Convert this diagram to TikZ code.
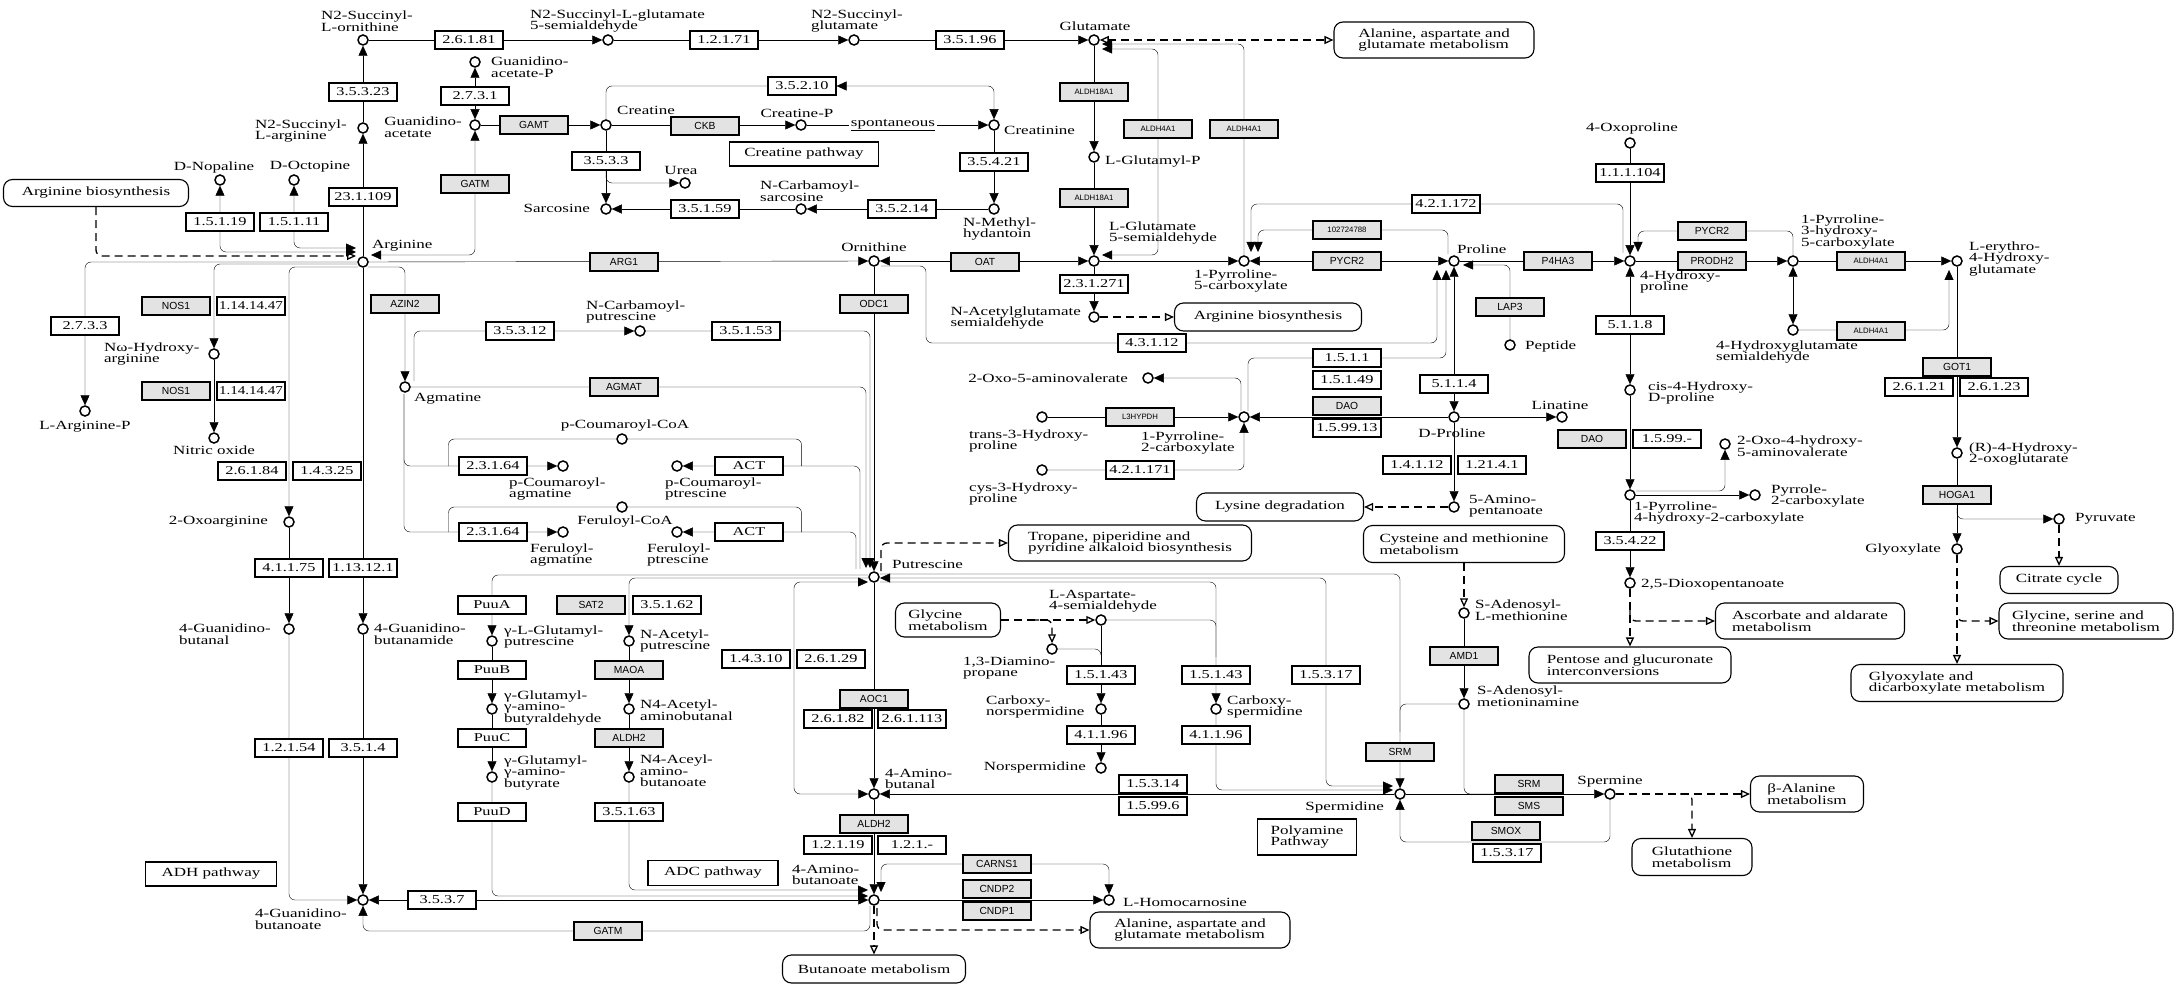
\documentclass[tikz,border=0pt]{standalone}
\usepackage{fontspec}
\usepackage{tikz}
\usetikzlibrary{arrows.meta,calc,backgrounds}
\newfontfamily\keggfont[FakeStretch=1.36]{Liberation Serif}
\newfontfamily\genefont{Liberation Sans}

\begin{document}
\begin{tikzpicture}
[x=1pt, y=-1pt,
cpd/.style={circle, draw=black, fill=white, line width=1.5pt, inner sep=0pt, minimum size=10pt},
ec/.style={rectangle, draw=black, fill=white, line width=1.1pt, inner sep=0pt, minimum width=68pt, minimum height=18pt, font=\keggfont\fontsize{12}{12}\selectfont},
gene/.style={ec, fill=gray!22, font=\genefont\fontsize{10.3}{10.3}\selectfont},
genesm/.style={gene, font=\genefont\fontsize{7.8}{8}\selectfont},
lbl/.style={inner sep=0pt, align=left, font=\keggfont\fontsize{12.5}{11.5}\selectfont},
mapbox/.style={rectangle, rounded corners=9pt, draw=black, fill=white, line width=1.1pt, inner sep=0pt, align=left, font=\keggfont\fontsize{12.5}{11.5}\selectfont},
infobox/.style={mapbox, sharp corners},
ar/.style={-{Triangle[length=10pt,width=9pt]}},
arr2/.style={{Triangle[length=10pt,width=9pt]}-{Triangle[length=10pt,width=9pt]}},
lnk/.style={line width=1.3pt, dash pattern=on 8pt off 5pt, -{Triangle[open,length=9pt,width=8pt]}},
lnk2/.style={lnk, {Triangle[open,length=9pt,width=8pt]}-{Triangle[open,length=9pt,width=8pt]}}
]
\useasboundingbox (0,0) rectangle (2176,984);

%compounds
\node at (363,40) [cpd] (sucOrn) {};
\node at (608,40) [cpd] (sucGsa) {};
\node at (854,40) [cpd] (sucGlu) {};
\node at (1094,40) [cpd] (glu) {};
\node at (475,62) [cpd] (gaP) {};
\node at (475,125) [cpd] (gaa) {};
\node at (363,128) [cpd] (sucArg) {};
\node at (220,180) [cpd] (nop) {};
\node at (294,180) [cpd] (oct) {};
\node at (363,262) [cpd] (arg) {};
\node at (606,125) [cpd] (creat) {};
\node at (801,125) [cpd] (creP) {};
\node at (994,125) [cpd] (crn) {};
\node at (685,183) [cpd] (urea) {};
\node at (606,209) [cpd] (sarc) {};
\node at (801,209) [cpd] (ncs) {};
\node at (994,209) [cpd] (nmh) {};
\node at (874,261) [cpd] (orn) {};
\node at (1094,157) [cpd] (glp) {};
\node at (1094,261) [cpd] (gsa) {};
\node at (1094,317) [cpd] (nags) {};
\node at (1244,261) [cpd] (p5c) {};
\node at (1454,261) [cpd] (pro) {};
\node at (1630,143) [cpd] (oxopro) {};
\node at (1630,261) [cpd] (hyp) {};
\node at (1793,261) [cpd] (p3h) {};
\node at (1793,330) [cpd] (hgs) {};
\node at (1957,261) [cpd] (ehg) {};
\node at (85,411) [cpd] (argP) {};
\node at (214,354) [cpd] (nohArg) {};
\node at (214,438) [cpd] (no) {};
\node at (289,522) [cpd] (oxoArg) {};
\node at (289,629) [cpd] (gbal) {};
\node at (363,629) [cpd] (gbam) {};
\node at (363,900) [cpd] (gbut) {};
\node at (405,387) [cpd] (agm) {};
\node at (640,331) [cpd] (ncp) {};
\node at (622,439) [cpd] (pcoa) {};
\node at (563,466) [cpd] (pcagm) {};
\node at (677,466) [cpd] (pcput) {};
\node at (622,507) [cpd] (fcoa) {};
\node at (563,532) [cpd] (fagm) {};
\node at (677,532) [cpd] (fput) {};
\node at (874,577) [cpd] (put) {};
\node at (492,641) [cpd] (glput) {};
\node at (492,709) [cpd] (glbal) {};
\node at (492,777) [cpd] (glbut) {};
\node at (629,641) [cpd] (nap) {};
\node at (629,709) [cpd] (naal) {};
\node at (629,777) [cpd] (naab) {};
\node at (874,794) [cpd] (abal) {};
\node at (874,900) [cpd] (gaba) {};
\node at (1109,900) [cpd] (hcar) {};
\node at (1148,378) [cpd] (oav) {};
\node at (1042,417) [cpd] (tHyp) {};
\node at (1042,470) [cpd] (cHyp) {};
\node at (1244,417) [cpd] (p2c) {};
\node at (1454,417) [cpd] (dpro) {};
\node at (1562,417) [cpd] (lin) {};
\node at (1454,507) [cpd] (apen) {};
\node at (1510,345) [cpd] (pep) {};
\node at (1630,390) [cpd] (c4h) {};
\node at (1630,495) [cpd] (p4h) {};
\node at (1725,444) [cpd] (oha) {};
\node at (1755,495) [cpd] (pyc) {};
\node at (1630,583) [cpd] (dop) {};
\node at (1957,453) [cpd] (rhog) {};
\node at (1957,549) [cpd] (glyox) {};
\node at (2059,519) [cpd] (pyr) {};
\node at (1101,620) [cpd] (asa) {};
\node at (1052,649) [cpd] (dap) {};
\node at (1101,709) [cpd] (cnsp) {};
\node at (1101,768) [cpd] (nspd) {};
\node at (1216,709) [cpd] (cspd) {};
\node at (1400,794) [cpd] (spd) {};
\node at (1464,613) [cpd] (sam) {};
\node at (1464,704) [cpd] (dsam) {};
\node at (1610,794) [cpd] (spm) {};

%compound names
\node at (321,21) [lbl, anchor=west] (lSucOrn) {N2-Succinyl-\\L-ornithine};
\node at (530,21) [lbl, anchor=west] (lSucGsa) {N2-Succinyl-L-glutamate\\5-semialdehyde};
\node at (811,21) [lbl, anchor=west] (lSucGlu) {N2-Succinyl-\\glutamate};
\node at (1095,26) [lbl] (lGlu) {Glutamate};
\node at (491,67) [lbl, anchor=west] (lGaP) {Guanidino-\\acetate-P};
\node at (462,127) [lbl, anchor=east] (lGaa) {Guanidino-\\acetate};
\node at (347,131) [lbl, anchor=east] (lSucArg) {N2-Succinyl-\\L-arginine};
\node at (214,167) [lbl] (lNop) {D-Nopaline};
\node at (310,167) [lbl] (lOct) {D-Octopine};
\node at (372,246) [lbl, anchor=west] (lArg) {Arginine};
\node at (617,110) [lbl, anchor=west] (lCreat) {Creatine};
\node at (797,113) [lbl] (lCreP) {Creatine-P};
\node at (1004,130) [lbl, anchor=west] (lCrn) {Creatinine};
\node at (681,170) [lbl] (lUrea) {Urea};
\node at (590,208) [lbl, anchor=east] (lSarc) {Sarcosine};
\node at (760,191) [lbl, anchor=west] (lNcs) {N-Carbamoyl-\\sarcosine};
\node at (963,229) [lbl, anchor=west] (lNmh) {N-Methyl-\\hydantoin};
\node at (874,247) [lbl] (lOrn) {Ornithine};
\node at (1105,162) [lbl, anchor=west] (lGlp) {L-Glutamyl-P};
\node at (1109,233) [lbl, anchor=west] (lGsa) {L-Glutamate\\5-semialdehyde};
\node at (1081,318) [lbl, anchor=east] (lNags) {N-Acetylglutamate\\semialdehyde};
\node at (1194,281) [lbl, anchor=west] (lP5c) {1-Pyrroline-\\5-carboxylate};
\node at (1457,249) [lbl, anchor=west] (lPro) {Proline};
\node at (1632,128) [lbl] (lOxopro) {4-Oxoproline};
\node at (1640,282) [lbl, anchor=west] (lHyp) {4-Hydroxy-\\proline};
\node at (1801,232) [lbl, anchor=west] (lP3h) {1-Pyrroline-\\3-hydroxy-\\5-carboxylate};
\node at (1969,259) [lbl, anchor=west] (lEhg) {L-erythro-\\4-Hydroxy-\\glutamate};
\node at (1716,352) [lbl, anchor=west] (lHgs) {4-Hydroxyglutamate\\semialdehyde};
\node at (85,427) [lbl] (lArgP) {L-Arginine-P};
\node at (104,354) [lbl, anchor=west] (lNohArg) {Nω-Hydroxy-\\arginine};
\node at (214,450) [lbl] (lNo) {Nitric oxide};
\node at (268,522) [lbl, anchor=east] (lOxoArg) {2-Oxoarginine};
\node at (179,634) [lbl, anchor=west] (lGbal) {4-Guanidino-\\butanal};
\node at (374,634) [lbl, anchor=west] (lGbam) {4-Guanidino-\\butanamide};
\node at (255,919) [lbl, anchor=west] (lGbut) {4-Guanidino-\\butanoate};
\node at (414,399) [lbl, anchor=west] (lAgm) {Agmatine};
\node at (586,312) [lbl, anchor=west] (lNcp) {N-Carbamoyl-\\putrescine};
\node at (625,426) [lbl] (lPcoa) {p-Coumaroyl-CoA};
\node at (509,489) [lbl, anchor=west] (lPcagm) {p-Coumaroyl-\\agmatine};
\node at (665,489) [lbl, anchor=west] (lPcput) {p-Coumaroyl-\\ptrescine};
\node at (625,522) [lbl] (lFcoa) {Feruloyl-CoA};
\node at (530,555) [lbl, anchor=west] (lFagm) {Feruloyl-\\agmatine};
\node at (647,555) [lbl, anchor=west] (lFput) {Feruloyl-\\ptrescine};
\node at (892,564) [lbl, anchor=west] (lPut) {Putrescine};
\node at (504,637) [lbl, anchor=west] (lGlput) {γ-L-Glutamyl-\\putrescine};
\node at (504,708) [lbl, anchor=west] (lGlbal) {γ-Glutamyl-\\γ-amino-\\butyraldehyde};
\node at (504,773) [lbl, anchor=west] (lGlbut) {γ-Glutamyl-\\γ-amino-\\butyrate};
\node at (640,641) [lbl, anchor=west] (lNap) {N-Acetyl-\\putrescine};
\node at (640,710) [lbl, anchor=west] (lNaal) {N4-Acetyl-\\aminobutanal};
\node at (640,771) [lbl, anchor=west] (lNaab) {N4-Aceyl-\\amino-\\butanoate};
\node at (885,779) [lbl, anchor=west] (lAbal) {4-Amino-\\butanal};
\node at (792,875) [lbl, anchor=west] (lGaba) {4-Amino-\\butanoate};
\node at (1123,902) [lbl, anchor=west] (lHcar) {L-Homocarnosine};
\node at (1128,378) [lbl, anchor=east] (lOav) {2-Oxo-5-aminovalerate};
\node at (969,441) [lbl, anchor=west] (lTHyp) {trans-3-Hydroxy-\\proline};
\node at (969,494) [lbl, anchor=west] (lCHyp) {cys-3-Hydroxy-\\proline};
\node at (1141,443) [lbl, anchor=west] (lP2c) {1-Pyrroline-\\2-carboxylate};
\node at (1452,433) [lbl] (lDpro) {D-Proline};
\node at (1560,405) [lbl] (lLin) {Linatine};
\node at (1469,506) [lbl, anchor=west] (lApen) {5-Amino-\\pentanoate};
\node at (1525,346) [lbl, anchor=west] (lPep) {Peptide};
\node at (1648,393) [lbl, anchor=west] (lC4h) {cis-4-Hydroxy-\\D-proline};
\node at (1634,513) [lbl, anchor=west] (lP4h) {1-Pyrroline-\\4-hydroxy-2-carboxylate};
\node at (1737,446) [lbl, anchor=west] (lOha) {2-Oxo-4-hydroxy-\\5-aminovalerate};
\node at (1771,496) [lbl, anchor=west] (lPyc) {Pyrrole-\\2-carboxylate};
\node at (1641,585) [lbl, anchor=west] (lDop) {2,5-Dioxopentanoate};
\node at (1969,454) [lbl, anchor=west] (lRhog) {(R)-4-Hydroxy-\\2-oxoglutarate};
\node at (1941,550) [lbl, anchor=east] (lGlyox) {Glyoxylate};
\node at (2075,519) [lbl, anchor=west] (lPyr) {Pyruvate};
\node at (1049,601) [lbl, anchor=west] (lAsa) {L-Aspartate-\\4-semialdehyde};
\node at (963,668) [lbl, anchor=west] (lDap) {1,3-Diamino-\\propane};
\node at (986,707) [lbl, anchor=west] (lCnsp) {Carboxy-\\norspermidine};
\node at (1086,767) [lbl, anchor=east] (lNspd) {Norspermidine};
\node at (1227,707) [lbl, anchor=west] (lCspd) {Carboxy-\\spermidine};
\node at (1384,807) [lbl, anchor=east] (lSpd) {Spermidine};
\node at (1475,610) [lbl, anchor=west] (lSam) {S-Adenosyl-\\L-methionine};
\node at (1477,696) [lbl, anchor=west] (lDsam) {S-Adenosyl-\\metioninamine};
\node at (1610,782) [lbl] (lSpm) {Spermine};
\node at (893,125) [lbl, fill=white, inner sep=2pt] (spont) {\underline{spontaneous}};

%enzymes
\node at (469,40) [ec] (e26181) {2.6.1.81};
\node at (363,92) [ec] (e35323) {3.5.3.23};
\node at (475,96) [ec] (e2731) {2.7.3.1};
\node at (363,197) [ec] (e231109) {23.1.109};
\node at (220,222) [ec] (e15119) {1.5.1.19};
\node at (294,222) [ec] (e15111) {1.5.1.11};
\node at (85,326) [ec] (e2733) {2.7.3.3};
\node at (251,306) [ec] (e1141447a) {\scalebox{0.92}[1]{1.14.14.47}};
\node at (251,391) [ec] (e1141447b) {\scalebox{0.92}[1]{1.14.14.47}};
\node at (520,331) [ec] (e35312) {3.5.3.12};
\node at (252,471) [ec] (e26184) {2.6.1.84};
\node at (327,471) [ec] (e14325) {1.4.3.25};
\node at (289,568) [ec] (e41175) {4.1.1.75};
\node at (363,568) [ec] (e113121) {1.13.12.1};
\node at (493,466) [ec] (e23164a) {2.3.1.64};
\node at (493,532) [ec] (e23164b) {2.3.1.64};
\node at (289,748) [ec] (e12154) {1.2.1.54};
\node at (363,748) [ec] (e3514) {3.5.1.4};
\node at (442,900) [ec] (e3537) {3.5.3.7};
\node at (724,40) [ec] (e12171) {1.2.1.71};
\node at (970,40) [ec] (e35196) {3.5.1.96};
\node at (802,86) [ec] (e35210) {3.5.2.10};
\node at (606,161) [ec] (e3533) {3.5.3.3};
\node at (994,162) [ec] (e35421) {3.5.4.21};
\node at (705,209) [ec] (e35159) {3.5.1.59};
\node at (902,209) [ec] (e35214) {3.5.2.14};
\node at (746,331) [ec] (e35153) {3.5.1.53};
\node at (749,466) [ec] (actA) {ACT};
\node at (749,532) [ec] (actB) {ACT};
\node at (667,605) [ec] (e35162) {3.5.1.62};
\node at (756,659) [ec] (e14310) {1.4.3.10};
\node at (831,659) [ec] (e26129) {2.6.1.29};
\node at (838,719) [ec] (e26182) {2.6.1.82};
\node at (912,719) [ec] (e261113) {2.6.1.113};
\node at (838,845) [ec] (e12119) {1.2.1.19};
\node at (912,845) [ec] (e121x) {1.2.1.-};
\node at (629,812) [ec] (e35163) {3.5.1.63};
\node at (492,605) [ec] (puuA) {PuuA};
\node at (492,670) [ec] (puuB) {PuuB};
\node at (492,738) [ec] (puuC) {PuuC};
\node at (492,812) [ec] (puuD) {PuuD};
\node at (1094,284) [ec] (e231271) {2.3.1.271};
\node at (1152,343) [ec] (e43112) {4.3.1.12};
\node at (1446,204) [ec] (e421172) {4.2.1.172};
\node at (1347,358) [ec] (e1511) {1.5.1.1};
\node at (1347,380) [ec] (e15149) {1.5.1.49};
\node at (1347,428) [ec] (e159913) {1.5.99.13};
\node at (1454,384) [ec] (e5114) {5.1.1.4};
\node at (1140,470) [ec] (e421171) {4.2.1.171};
\node at (1417,465) [ec] (e14112) {1.4.1.12};
\node at (1492,465) [ec] (e12141) {1.21.4.1};
\node at (1630,173) [ec] (e111104) {1.1.1.104};
\node at (1630,325) [ec] (e5118) {5.1.1.8};
\node at (1667,439) [ec] (e1599x) {1.5.99.-};
\node at (1630,541) [ec] (e35422) {3.5.4.22};
\node at (1919,387) [ec] (e26121) {2.6.1.21};
\node at (1994,387) [ec] (e26123) {2.6.1.23};
\node at (1101,675) [ec] (e15143a) {1.5.1.43};
\node at (1216,675) [ec] (e15143b) {1.5.1.43};
\node at (1101,735) [ec] (e41196a) {4.1.1.96};
\node at (1216,735) [ec] (e41196b) {4.1.1.96};
\node at (1326,675) [ec] (e15317a) {1.5.3.17};
\node at (1507,853) [ec] (e15317b) {1.5.3.17};
\node at (1153,784) [ec] (e15314) {1.5.3.14};
\node at (1153,806) [ec] (e15996) {1.5.99.6};

%genes
\node at (534,125) [gene] (gGAMT) {GAMT};
\node at (475,184) [gene] (gGATMa) {GATM};
\node at (176,306) [gene] (gNOSa) {NOS1};
\node at (176,391) [gene] (gNOSb) {NOS1};
\node at (405,304) [gene] (gAZIN) {AZIN2};
\node at (705,126) [gene] (gCKB) {CKB};
\node at (624,262) [gene] (gARG) {ARG1};
\node at (874,304) [gene] (gODC) {ODC1};
\node at (985,262) [gene] (gOAT) {OAT};
\node at (624,387) [gene] (gAGMAT) {AGMAT};
\node at (591,605) [gene] (gSAT) {SAT2};
\node at (629,670) [gene] (gMAOA) {MAOA};
\node at (629,738) [gene] (gALDH2a) {ALDH2};
\node at (874,824) [gene] (gALDH2b) {ALDH2};
\node at (874,699) [gene] (gAOC) {AOC1};
\node at (997,864) [gene] (gCARNS) {CARNS1};
\node at (997,889) [gene] (gCNDP2) {CNDP2};
\node at (997,911) [gene] (gCNDP1) {CNDP1};
\node at (608,931) [gene] (gGATMb) {GATM};
\node at (1094,92) [genesm] (gP5CSa) {ALDH18A1};
\node at (1094,198) [genesm] (gP5CSb) {ALDH18A1};
\node at (1158,129) [genesm] (gALDH4a) {ALDH4A1};
\node at (1244,129) [genesm] (gALDH4b) {ALDH4A1};
\node at (1871,261) [genesm] (gALDH4c) {ALDH4A1};
\node at (1871,331) [genesm] (gALDH4d) {ALDH4A1};
\node at (1347,230) [genesm] (gLoc) {102724788};
\node at (1347,261) [gene] (gPYCRa) {PYCR2};
\node at (1712,231) [gene] (gPYCRb) {PYCR2};
\node at (1558,261) [gene] (gP4HA) {P4HA3};
\node at (1510,307) [gene] (gLAP) {LAP3};
\node at (1712,261) [gene] (gPRODH) {PRODH2};
\node at (1140,417) [genesm] (gL3H) {L3HYPDH};
\node at (1347,406) [gene] (gDAOa) {DAO};
\node at (1592,439) [gene] (gDAOb) {DAO};
\node at (1957,367) [gene] (gGOT) {GOT1};
\node at (1957,495) [gene] (gHOGA) {HOGA1};
\node at (1464,656) [gene] (gAMD) {AMD1};
\node at (1400,752) [gene] (gSRMa) {SRM};
\node at (1529,784) [gene] (gSRMb) {SRM};
\node at (1529,806) [gene] (gSMS) {SMS};
\node at (1506,831) [gene] (gSMOX) {SMOX};

%maps and titles
\node at (96,193) [mapbox, minimum width=185pt, minimum height=27pt] (argbio1) {Arginine biosynthesis};
\node at (1434,40) [mapbox, minimum width=200pt, minimum height=36pt] (alamap1) {Alanine, aspartate and\\glutamate metabolism};
\node at (1268,317) [mapbox, minimum width=187pt, minimum height=28pt] (argbio2) {Arginine biosynthesis};
\node at (1130,543) [mapbox, minimum width=243pt, minimum height=36pt] (tropmap) {Tropane, piperidine and\\pyridine alkaloid biosynthesis};
\node at (1280,507) [mapbox, minimum width=167pt, minimum height=28pt] (lysmap) {Lysine degradation};
\node at (1464,544) [mapbox, minimum width=201pt, minimum height=37pt] (cysmap) {Cysteine and methionine\\metabolism};
\node at (948,620) [mapbox, minimum width=105pt, minimum height=34pt] (glymap) {Glycine\\metabolism};
\node at (874,969) [mapbox, minimum width=183pt, minimum height=28pt] (butmap) {Butanoate metabolism};
\node at (1190,930) [mapbox, minimum width=200pt, minimum height=36pt] (alamap2) {Alanine, aspartate and\\glutamate metabolism};
\node at (1630,665) [mapbox, minimum width=202pt, minimum height=36pt] (penmap) {Pentose and glucuronate\\interconversions};
\node at (1810,621) [mapbox, minimum width=189pt, minimum height=36pt] (ascmap) {Ascorbate and aldarate\\metabolism};
\node at (2059,580) [mapbox, minimum width=118pt, minimum height=27pt] (citmap) {Citrate cycle};
\node at (2086,621) [mapbox, minimum width=174pt, minimum height=36pt] (glymap2) {Glycine, serine and\\threonine metabolism};
\node at (1957,683) [mapbox, minimum width=212pt, minimum height=37pt] (glxmap) {Glyoxylate and\\dicarboxylate metabolism};
\node at (1807,794) [mapbox, minimum width=113pt, minimum height=36pt] (balamap) {β-Alanine\\metabolism};
\node at (1692,857) [mapbox, minimum width=120pt, minimum height=37pt] (glutmap) {Glutathione\\metabolism};
\node at (804,154) [infobox, minimum width=149pt, minimum height=24pt] (crePath) {Creatine pathway};
\node at (211,874) [infobox, minimum width=131pt, minimum height=24pt] (adhPath) {ADH pathway};
\node at (713,873) [infobox, minimum width=130pt, minimum height=25pt] (adcPath) {ADC pathway};
\node at (1307,837) [infobox, minimum width=99pt, minimum height=36pt] (polyPath) {Polyamine\\Pathway};

\begin{scope}[on background layer, line width=1.8pt, rounded corners=6pt]
\fill[white, rounded corners=0pt] (0,0) rectangle (2176,984);
%arginine
\draw[ar] (arg) -- (sucArg);
\draw[ar] (sucArg) -- (sucOrn);
\draw[ar] (sucOrn) -- (sucGsa);
\draw[ar] (sucGsa) -- (sucGlu);
\draw[ar] (sucGlu) -- (glu);
\draw[arr2] (gaa) -- (gaP);
\draw[arr2] (gaa) |- ($(arg)+(8,-7)$);
\draw[arr2] (nop) |- ($(arg)+(-7,-10)$);
\draw[arr2] (oct) |- ($(arg)+(-7,-14)$);
\draw[lnk] (argbio1) |- ($(arg)+(-7,-6)$);
\draw[ar] (arg) -- (orn);
\draw[ar] (arg) -| (argP);
\draw[ar] ($(arg)+(-6,2)$) -| (nohArg);
\draw[ar] (nohArg) -- (no);
\draw[ar] ($(arg)+(-5,5)$) -| (oxoArg);
\draw[ar] (oxoArg) -- (gbal);
\draw[ar] (gbal) |- (gbut);
\draw[ar] (arg) -- (gbam);
\draw[ar] (gbam) -- (gbut);
\draw[ar] ($(arg)+(5,5)$) -| (agm);
\draw[arr2] (gbut) -- (gaba);
\draw[ar] ($(gaba.south)+(-4,0)$) |- ($(gbut)+(0,31)$) -- (gbut);
%creatine
\draw[ar] (gaa) -- (creat);
\draw[ar] (creat) -- (creP);
\draw[ar] (creP) -- (crn);
\draw[arr2] (creat) |- (e35210) -| (crn);
\draw[ar] (creat) -- (sarc);
\draw[ar] ($(creat)+(0,46)$) |- (urea);
\draw[ar] (crn) -- (nmh);
\draw[ar] (nmh) -- (ncs);
\draw[ar] (ncs) -- (sarc);
%agmatine and putrescine
\draw[ar] ($(agm)+(9,-6)$) |- (ncp);
\draw[ar] (ncp) -| ($(put)+(-4,-9)$);
\draw[ar] (agm) -| ($(put)+(-8,-9)$);
\draw[ar] ($(agm)+(-1,7)$) |- (pcagm);
\draw[ar] ($(agm)+(-1,7)$) |- (fagm);
\draw ($(e23164a.west)+(-10,0)$) |- (pcoa) -| ($(actA.east)+(18,0)$);
\draw ($(e23164b.west)+(-10,0)$) |- (fcoa) -| ($(actB.east)+(18,0)$);
\draw[ar] ($(put)+(-14,-8)$) |- (pcput);
\draw[ar] ($(put)+(-18,-8)$) |- (fput);
\draw[ar] (orn) -- (put);
\draw[ar] ($(put)+(-6,-2)$) -| (glput);
\draw[ar] (glput) -- (glbal);
\draw[ar] (glbal) -- (glbut);
\draw[ar] (glbut) |- ($(gaba)+(-6,-4)$);
\draw[ar] ($(put)+(-6,1)$) -| (nap);
\draw[ar] (nap) -- (naal);
\draw[ar] (naal) -- (naab);
\draw[ar] (naab) |- ($(gaba)+(-6,-10)$);
\draw[arr2] ($(put)+(-6,5)$) -| ($(abal)+(-80,0)$) -- (abal);
\draw[ar] (put) -- (abal);
\draw[ar] (abal) -- (gaba);
\draw[ar] (gCARNS.west) -| ($(gaba)+(7,-8)$);
\draw[ar] (gCARNS.east) -| (hcar);
\draw[ar] (gaba) -- (hcar);
\draw[lnk] (gaba) -- (butmap);
\draw[lnk] ($(gaba)+(3,8)$) |- (alamap2);
\draw[lnk] ($(put)+(7,-6)$) |- (tropmap);
%polyamines
\draw[lnk] (glymap) -- (asa);
\draw[lnk] ($(glymap.east)+(30,0)$) -| (dap);
\draw (dap) -| ($(asa)+(0,35)$);
\draw[ar] (asa) -- (cnsp);
\draw[ar] (cnsp) -- (nspd);
\draw[ar] ($(put)+(6,5)$) -| (cspd);
\draw (asa) -| ($(cspd)+(0,-52)$);
\draw[ar] (cspd) |- ($(spd)+(-7,-4)$);
\draw[ar] ($(put)+(6,-3)$) -| (spd);
\draw (dsam) -| ($(spd)+(0,-62)$);
\draw[arr2] ($(put)+(6,1)$) -| ($(spd)+(-74,-8)$) -- ($(spd)+(-7,-8)$);
\draw[ar] (spd) -- (abal);
\draw[lnk] (cysmap) -- (sam);
\draw[ar] (sam) -- (dsam);
\draw (dsam) |- ($(spd)+(110,0)$);
\draw[ar] (spd) -- (spm);
\draw[ar] (spm) |- ($(spd)+(0,48)$) -- (spd);
\draw[lnk] (spm) -- (balamap);
\draw[lnk] ($(spm)+(70,0)$) -| (glutmap);
%glutamate and proline
\draw[lnk2] (glu) -- (alamap1);
\draw[ar] (glu) -- (glp);
\draw[ar] (glp) -- (gsa);
\draw[arr2] ($(gsa)+(8,-6)$) -| ($(glu)+(64,9)$) -- ($(glu)+(8,9)$);
\draw[ar] (p5c) |- ($(glu)+(8,4)$);
\draw[arr2] (orn) -- (gsa);
\draw[ar] ($(orn)+(7,5)$) -- ++(45,0) |- (e43112) -| ($(pro)+(-17,9)$);
\draw[ar] (gsa) -- (nags);
\draw[lnk] (nags) -- (argbio2);
\draw[ar] (gsa) -- (p5c);
\draw[arr2] (p5c) -- (pro);
\draw[ar] ($(pro)+(-6,-7)$) |- (gLoc) -| ($(p5c)+(14,-9)$);
\draw[ar] ($(hyp)+(-7,-8)$) |- (e421172) -| ($(p5c)+(7,-9)$);
\draw[ar] ($(p2c)+(4,-6)$) |- (e1511) -| ($(pro)+(-8,9)$);
\draw[arr2] (pro) -- (dpro);
\draw[ar] (pep) |- ($(pro)+(9,4)$);
\draw[ar] (dpro) -- (p2c);
\draw[ar] (dpro) -- (lin);
\draw[ar] (dpro) -- (apen);
\draw[lnk] (apen) -- (lysmap);
\draw[ar] (tHyp) -- (p2c);
\draw[ar] (cHyp) -| (p2c);
\draw[ar] ($(p2c)+(-3,-6)$) |- (oav);
\draw[ar] (pro) -- (hyp);
\draw[ar] (oxopro) -- (hyp);
%hydroxyproline
\draw[ar] (p3h) |- (gPYCRb) -| ($(hyp)+(8,-9)$);
\draw[ar] (hyp) -- (p3h);
\draw[ar] (p3h) -- (ehg);
\draw[arr2] (p3h) -- (hgs);
\draw[ar] (hgs) -| ($(ehg)+(-8,9)$);
\draw[ar] (ehg) -- (rhog);
\draw[ar] (rhog) -- (glyox);
\draw[ar] ($(rhog)+(0,55)$) |- (pyr);
\draw[lnk] (pyr) -- (citmap);
\draw[lnk] (glyox) -- (glxmap);
\draw[lnk] ($(glyox)+(0,58)$) |- (glymap2);
\draw[arr2] (hyp) -- (c4h);
\draw[ar] (c4h) -- (p4h);
\draw[ar] ($(p4h)+(6,-4)$) -| (oha);
\draw[ar] (p4h) -- (pyc);
\draw[ar] (p4h) -- (dop);
\draw[lnk] (dop) -- (penmap);
\draw[lnk] ($(dop)+(0,25)$) |- (ascmap);
\end{scope}
\end{tikzpicture}
\end{document}
